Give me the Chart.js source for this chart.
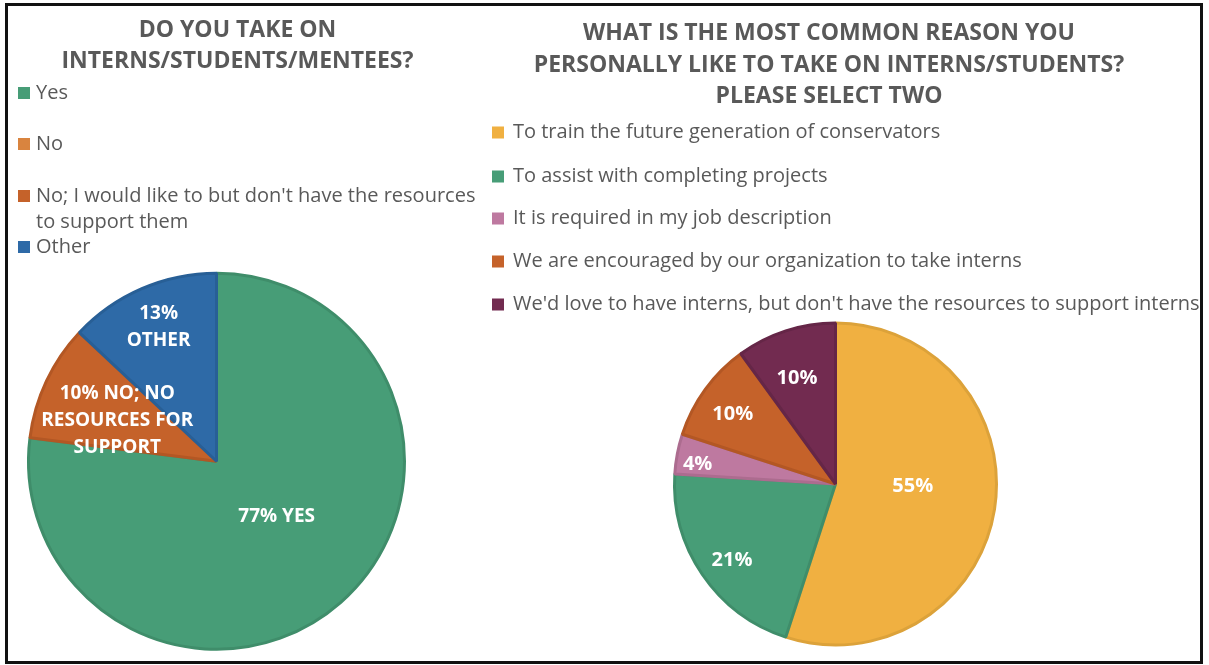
<!DOCTYPE html>
<html>
<head>
<meta charset="utf-8">
<script src="https://cdn.jsdelivr.net/npm/chart.js@4.4.1/dist/chart.umd.min.js"></script>
<style>
  html, body { margin: 0; padding: 0; background: #ffffff; }
  #frame {
    position: absolute; left: 5px; top: 3px; width: 1198px; height: 661px;
    border: 3px solid #111111; box-sizing: border-box;
  }
  .wrap { position: absolute; }
</style>
</head>
<body>
<div id="frame"></div>
<div class="wrap" style="left:8px;top:6px;width:472px;height:655px;"><canvas id="takeOn"></canvas></div>
<div class="wrap" style="left:480px;top:6px;width:720px;height:655px;"><canvas id="reasons"></canvas></div>
<script>
// ---- Survey question 1: do you take on interns/students/mentees? ----
const takeOnTitle = ['DO YOU TAKE ON', 'INTERNS/STUDENTS/MENTEES?'];
const takeOnCategories = [
  'Yes',
  'No',
  "No; I would like to but don't have the resources to support them",
  'Other'
];
const takeOnPercent = [77, 0, 10, 13];
const takeOnTags = [['{v}% YES'], [], ['{v}% NO; NO', 'RESOURCES FOR', 'SUPPORT'], ['{v}%', 'OTHER']];

// ---- Survey question 2: most common reason to take on interns ----
const reasonsTitle = [
  'WHAT IS THE MOST COMMON REASON YOU',
  'PERSONALLY LIKE TO TAKE ON INTERNS/STUDENTS?',
  'PLEASE SELECT TWO'
];
const reasonsCategories = [
  'To train the future generation of conservators',
  'To assist with completing projects',
  'It is required in my job description',
  'We are encouraged by our organization to take interns',
  "We'd love to have interns, but don't have the resources to support interns"
];
const reasonsPercent = [55, 21, 4, 10, 10];
const reasonsTags = [['{v}%'], ['{v}%'], ['{v}%'], ['{v}%'], ['{v}%']];

// ---- palettes ----
const takeOnFill   = ['#479d77', '#d9843f', '#c5622a', '#2e6aa7'];
const takeOnEdge   = ['#3f8d6a', '#c77636', '#b35724', '#285f96'];
const reasonsFill  = ['#f0b041', '#479d77', '#be79a0', '#c5622a', '#722b50'];
const reasonsEdge  = ['#dca23a', '#3f8d6a', '#ac6c8f', '#b35724', '#652647'];

const FONT = '"Open Sans", "DejaVu Sans", sans-serif';
const GREY = '#595959';

// Title and key drawn at fixed spots in the canvas
const captionPlugin = {
  id: 'caption',
  afterDraw(chart, args, o) {
    const ctx = chart.ctx;
    const ds = chart.data.datasets[0];
    ctx.save();
    ctx.textBaseline = 'middle';
    ctx.fillStyle = GREY;
    ctx.textAlign = 'center';
    ctx.font = `bold ${o.titleSize}px ${FONT}`;
    o.title.forEach((line, i) => ctx.fillText(line, o.titleX, o.titleY + i * o.titleGap));

    ctx.textAlign = 'left';
    ctx.font = `${o.keySize}px ${FONT}`;
    chart.data.labels.forEach((label, i) => {
      const y = o.keyRows[i];
      ctx.fillStyle = ds.backgroundColor[i];
      ctx.fillRect(o.keyX, y - 6, 12, 12);
      // wrap long entries onto a second line
      const words = label.split(' ');
      const lines = [];
      let cur = '';
      words.forEach(w => {
        const test = cur ? cur + ' ' + w : w;
        if (cur && ctx.measureText(test).width > o.keyMaxWidth) { lines.push(cur); cur = w; }
        else cur = test;
      });
      lines.push(cur);
      ctx.fillStyle = GREY;
      lines.forEach((t, j) => ctx.fillText(t, o.keyX + o.keyTextOffset, y + j * o.keyGap));
    });
    ctx.restore();
  }
};

// Percent tags inside each slice
const sliceTagPlugin = {
  id: 'sliceTags',
  afterDatasetsDraw(chart, args, o) {
    const ctx = chart.ctx;
    const meta = chart.getDatasetMeta(0);
    const values = chart.data.datasets[0].data;
    ctx.save();
    ctx.font = `bold ${o.size}px ${FONT}`;
    ctx.fillStyle = '#ffffff';
    ctx.textAlign = 'center';
    ctx.textBaseline = 'middle';
    meta.data.forEach((arc, i) => {
      const lines = o.tags[i];
      if (!lines || !lines.length || !values[i]) return;
      const p = arc.getProps(['x', 'y', 'startAngle', 'endAngle', 'outerRadius'], true);
      const a = (p.startAngle + p.endAngle) / 2 + (o.nudge[i] || 0) * Math.PI / 180;
      const r = p.outerRadius * o.reach[i];
      const cx = p.x + Math.cos(a) * r;
      const cy = p.y + Math.sin(a) * r;
      const n = lines.length;
      lines.forEach((t, j) => ctx.fillText(t.replace('{v}', values[i]), cx, cy + (j - (n - 1) / 2) * o.lineGap));
    });
    ctx.restore();
  }
};

function pieChart(id, labels, values, fill, edge, radius, padding, caption, tags) {
  return new Chart(document.getElementById(id), {
    type: 'pie',
    data: {
      labels: labels,
      datasets: [{
        data: values,
        backgroundColor: fill,
        borderColor: edge,
        borderWidth: 3
      }]
    },
    options: {
      responsive: true,
      maintainAspectRatio: false,
      animation: false,
      radius: radius,
      layout: { padding: padding },
      plugins: {
        legend: { display: false },
        title: { display: false },
        tooltip: { enabled: false },
        caption: caption,
        sliceTags: tags
      }
    },
    plugins: [captionPlugin, sliceTagPlugin]
  });
}

pieChart('takeOn', takeOnCategories, takeOnPercent, takeOnFill, takeOnEdge, 188,
  { left: 8.5, right: 63.5, top: 255.5, bottom: -0.5 },
  {
    title: takeOnTitle, titleX: 229.5, titleY: 24.5, titleGap: 31, titleSize: 23,
    keyX: 10, keyTextOffset: 18, keySize: 20, keyGap: 26.5, keyMaxWidth: 450,
    keyRows: [87, 138, 190, 241]
  },
  {
    tags: takeOnTags, size: 19, lineGap: 27,
    reach: [0.435, 0, 0.57, 0.775], nudge: [-6, 0, -3, 0]
  });

pieChart('reasons', reasonsCategories, reasonsPercent, reasonsFill, reasonsEdge, 161,
  { left: 185.5, right: 194.5, top: 308, bottom: 7 },
  {
    title: reasonsTitle, titleX: 349, titleY: 27.5, titleGap: 31.5, titleSize: 23,
    keyX: 12, keyTextOffset: 21, keySize: 20, keyGap: 26, keyMaxWidth: 800,
    keyRows: [126.5, 170.5, 212.5, 255.5, 298.5]
  },
  {
    tags: reasonsTags, size: 20, lineGap: 27,
    reach: [0.48, 0.8, 0.865, 0.77, 0.7], nudge: [-7.5, -2.3, -2.6, -2, -2]
  });
</script>
</body>
</html>
